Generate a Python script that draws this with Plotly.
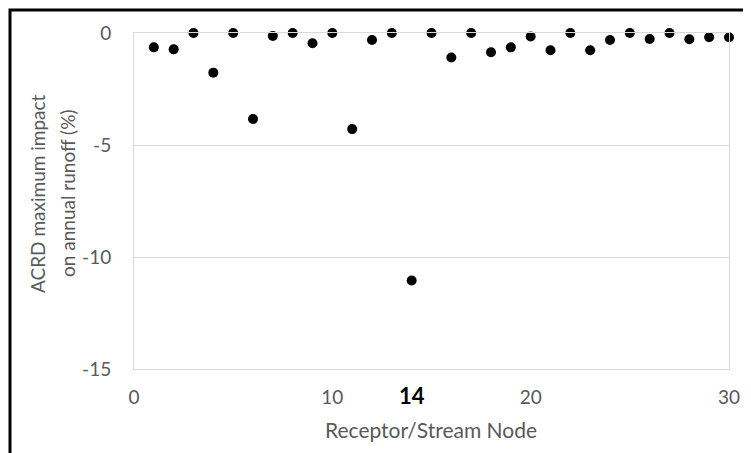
import plotly.graph_objects as go

nodes = list(range(1, 31))
impact = [-0.64, -0.73, 0.0, -1.77, 0.0, -3.84, -0.13, 0.0, -0.46, 0.0,
          -4.29, -0.31, 0.0, -11.05, 0.0, -1.09, 0.0, -0.86, -0.64, -0.16,
          -0.77, 0.0, -0.77, -0.31, 0.0, -0.27, 0.0, -0.28, -0.19, -0.19]

x_tickvals = [0, 10, 14, 20, 30]
x_ticktext = ["0", "10",
              "<span style='color:#000000;font-size:22px'><b>14</b></span>",
              "20", "30"]
y_tickvals = [0, -5, -10, -15]
y_ticktext = ["0", "-5", "-10", "-15"]
x_title = "Receptor/Stream Node"
y_title_lines = ["ACRD maximum impact", "on annual runoff (%)"]

OFF = 8  # page body margin
W, H = 751 - OFF, 453 - OFF
L, T = 134 - OFF, 33 - OFF
pw, ph = 595, 336
R, B = W - L - pw, H - T - ph

fig = go.Figure()
fig.add_trace(go.Scatter(
    x=nodes, y=impact, mode="markers",
    marker=dict(color="#000000", size=10),
    cliponaxis=False, showlegend=False,
))

grey = "#595959"
fig.update_layout(
    width=W, height=H,
    margin=dict(l=L, r=R, t=T, b=B, pad=0),
    paper_bgcolor="white", plot_bgcolor="white",
    font=dict(family="Lato, 'Open Sans', sans-serif", color=grey, size=19),
    xaxis=dict(range=[0, 30], tickvals=x_tickvals, ticktext=x_ticktext,
               showgrid=False, zeroline=False, showline=True, mirror=True,
               linecolor="#d9d9d9", linewidth=1, ticks="", ticklabelstandoff=11,
               automargin=False),
    yaxis=dict(range=[-15, 0], tickvals=y_tickvals, ticktext=y_ticktext,
               showgrid=True, gridcolor="#d9d9d9", gridwidth=1, zeroline=False,
               showline=True, mirror=True, linecolor="#d9d9d9", linewidth=1,
               ticks="", ticklabelstandoff=18, automargin=False),
)

# convert page pixel positions to paper coordinates
def px_x(px):
    return (px - OFF - L) / pw

def px_y(py):
    return 1 - (py - OFF - T) / ph

fig.add_annotation(text=x_title, xref="paper", yref="paper",
                   x=px_x(431), y=px_y(429), showarrow=False,
                   xanchor="center", yanchor="middle",
                   font=dict(size=21, color=grey))
for text, cx in zip(y_title_lines, [37, 67]):
    fig.add_annotation(text=text, xref="paper", yref="paper",
                       x=px_x(cx), y=px_y(194), showarrow=False,
                       textangle=-90, xanchor="center", yanchor="middle",
                       font=dict(size=19, color=grey))

# outer black frame (top and left edges visible), drawn as one open path
x_left = px_x(10)
y_top = px_y(10)
fig.add_shape(type="rect", xref="paper", yref="paper",
              x0=x_left, x1=px_x(800), y0=px_y(500), y1=y_top,
              line=dict(color="#000000", width=3), fillcolor="rgba(0,0,0,0)",
              layer="above")

fig.write_html("out.html")
